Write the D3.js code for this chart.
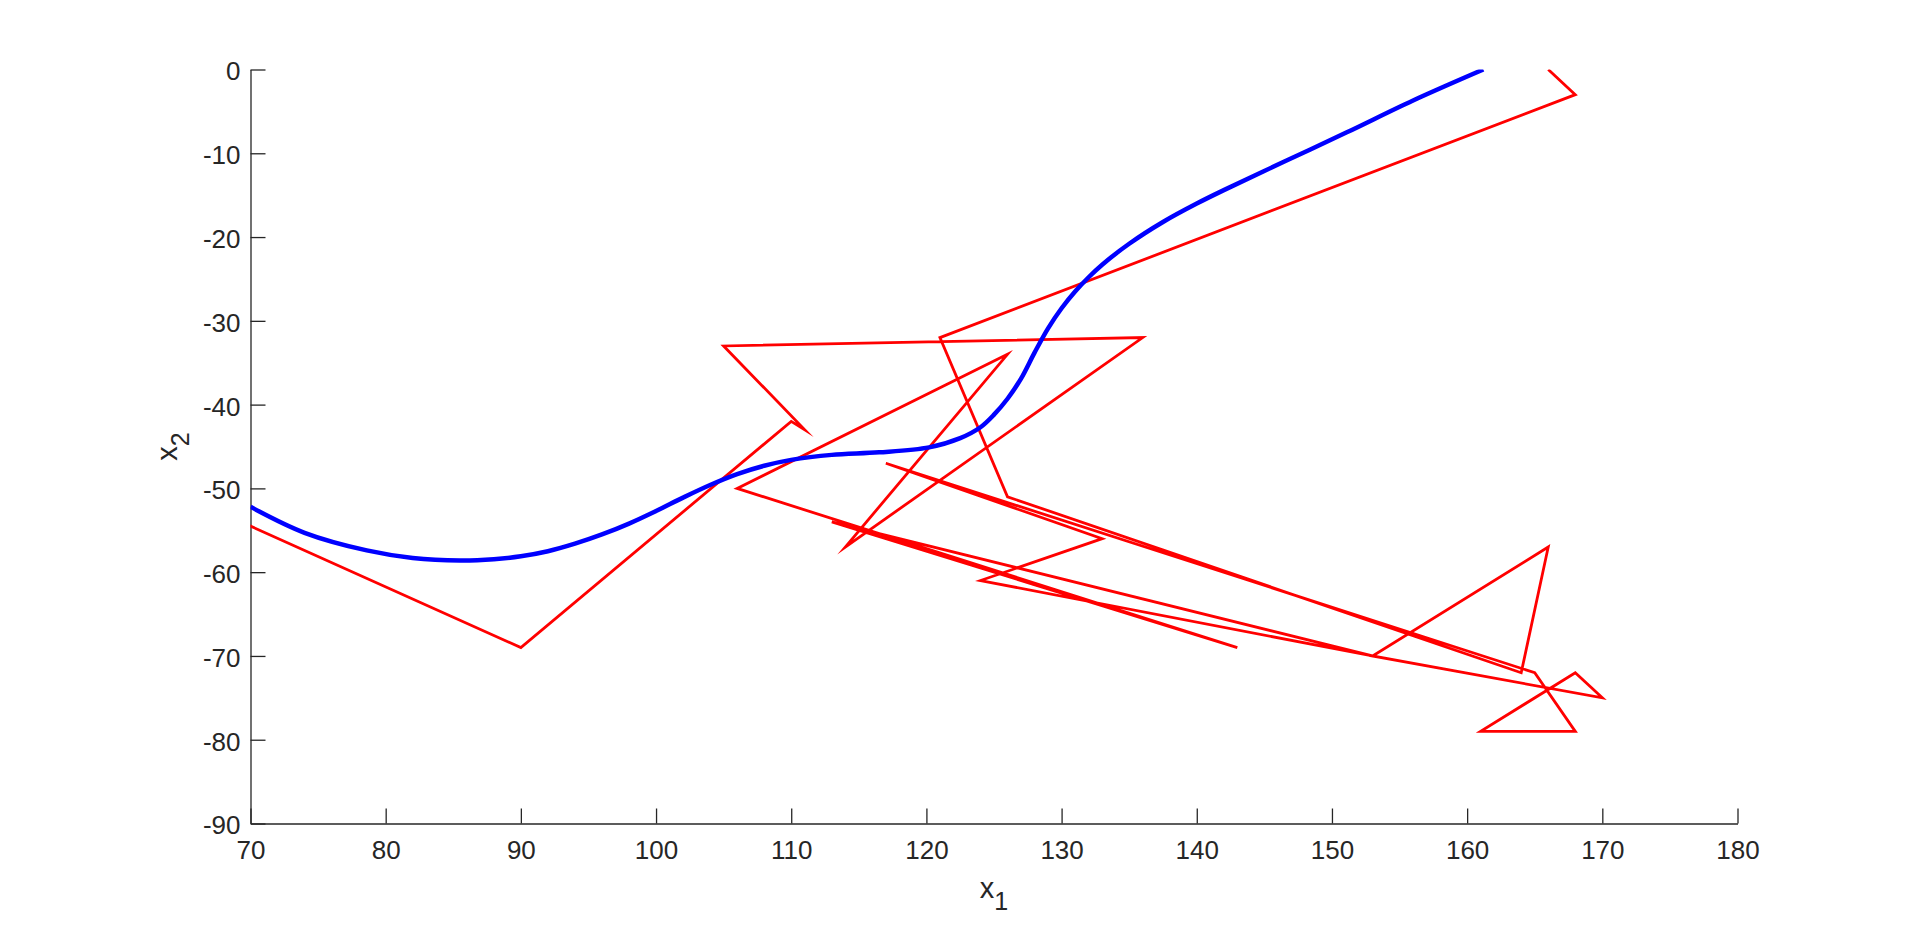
<!DOCTYPE html>
<html>
<head>
<meta charset="utf-8">
<script src="https://cdn.jsdelivr.net/npm/d3@7"></script>
<style>
  body { margin: 0; background: #fff; }
  svg { display: block; font-family: "Liberation Sans", Arial, Helvetica, sans-serif; }
</style>
</head>
<body>
<svg width="1920" height="926"></svg>
<script>
const redX = [50, 90, 110, 111, 105, 136, 114, 126, 106, 143, 113, 153, 124, 133, 117, 165, 168, 161, 168, 170, 153, 166, 164, 126, 121, 168, 166];
const redY = [-40, -69, -42, -43, -33, -32, -57, -34, -50, -69, -54, -70, -61, -56, -47, -72, -79, -79, -72, -75, -70, -57, -72, -51, -32, -3, 0];

// smooth estimate
const blueX = [70, 74, 78.6, 82, 85.5, 88, 90, 92, 94, 96, 98, 100, 102, 104, 106, 108, 110, 113, 116.5, 120.2, 122.5, 124, 125, 126, 127, 128, 129, 130, 131, 132, 133, 135, 137.5, 140, 142, 146.6, 151.1, 156, 161.2];
const blueY = [-52.2, -55.3, -57.4, -58.3, -58.6, -58.45, -58.1, -57.5, -56.6, -55.5, -54.2, -52.7, -51.1, -49.6, -48.3, -47.3, -46.6, -46.0, -45.7, -45.1, -44.0, -42.7, -41.2, -39.3, -36.9, -33.8, -30.9, -28.5, -26.5, -24.8, -23.3, -20.8, -18.2, -16.0, -14.4, -10.9, -7.5, -3.7, 0];

const xTicks = [70, 80, 90, 100, 110, 120, 130, 140, 150, 160, 170, 180];
const yTicks = [0, -10, -20, -30, -40, -50, -60, -70, -80, -90];

const marginLeft = 250.5;
const marginTop = 69.5;
const width = 1487;
const height = 754;
const axisColor = '#262626';

const svg = d3.select('svg');

const chart = svg.append('g')
  .attr('transform', `translate(${marginLeft}, ${marginTop})`);

const xScale = d3.scaleLinear()
  .domain([70, 180])
  .range([0, width]);

const yScale = d3.scaleLinear()
  .domain([-90, 0])
  .range([height, 0]);

// clip like matlab does at the axes limits
svg.append('defs').append('clipPath')
  .attr('id', 'plotArea')
  .append('rect')
  .attr('x', 0)
  .attr('y', 0)
  .attr('width', width)
  .attr('height', height);

// axes, ticks pointing inwards
const xAxis = chart.append('g')
  .attr('transform', `translate(0, ${height})`)
  .call(d3.axisBottom(xScale)
    .tickValues(xTicks)
    .tickFormat((d) => String(d))
    .tickSizeInner(-15)
    .tickSizeOuter(0)
    .tickPadding(17));

const yAxis = chart.append('g')
  .call(d3.axisLeft(yScale)
    .tickValues(yTicks)
    .tickFormat((d) => String(d))
    .tickSizeInner(-15)
    .tickSizeOuter(0)
    .tickPadding(10));

[xAxis, yAxis].forEach((ax) => {
  ax.select('.domain').attr('stroke', axisColor).attr('stroke-width', 1.3);
  ax.selectAll('.tick line').attr('stroke', axisColor).attr('stroke-width', 1.3);
  ax.selectAll('.tick text')
    .attr('fill', axisColor)
    .attr('font-size', '26px')
    .attr('font-family', '"Liberation Sans", Arial, sans-serif');
});
yAxis.selectAll('.tick text').attr('dy', '0.4em');

// lines
const plot = chart.append('g')
  .attr('clip-path', 'url(#plotArea)');

const redPts = redX.map((x, i) => [x, redY[i]]);
const bluePts = blueX.map((x, i) => [x, blueY[i]]);

const straight = d3.line()
  .x((d) => xScale(d[0]))
  .y((d) => yScale(d[1]));

const smooth = d3.line()
  .x((d) => xScale(d[0]))
  .y((d) => yScale(d[1]))
  .curve(d3.curveCatmullRom.alpha(0.5));

plot.append('path')
  .datum(redPts)
  .attr('fill', 'none')
  .attr('stroke', '#ff0000')
  .attr('stroke-width', 2.8)
  .attr('stroke-linejoin', 'miter')
  .attr('stroke-miterlimit', 10)
  .attr('d', straight);

plot.append('path')
  .datum(bluePts)
  .attr('fill', 'none')
  .attr('stroke', '#0000ff')
  .attr('stroke-width', 4.5)
  .attr('d', smooth);

// axis labels
const xLabel = svg.append('text')
  .attr('x', marginLeft + width / 2)
  .attr('y', 898)
  .attr('text-anchor', 'middle')
  .attr('fill', axisColor)
  .attr('font-size', '29px');
xLabel.append('tspan').text('x');
xLabel.append('tspan').attr('dy', 12).attr('font-size', '25px').text('1');

const yLabel = svg.append('text')
  .attr('transform', `translate(177, ${marginTop + height / 2}) rotate(-90)`)
  .attr('text-anchor', 'middle')
  .attr('fill', axisColor)
  .attr('font-size', '29px');
yLabel.append('tspan').text('x');
yLabel.append('tspan').attr('dy', 12).attr('font-size', '25px').text('2');
</script>
</body>
</html>
